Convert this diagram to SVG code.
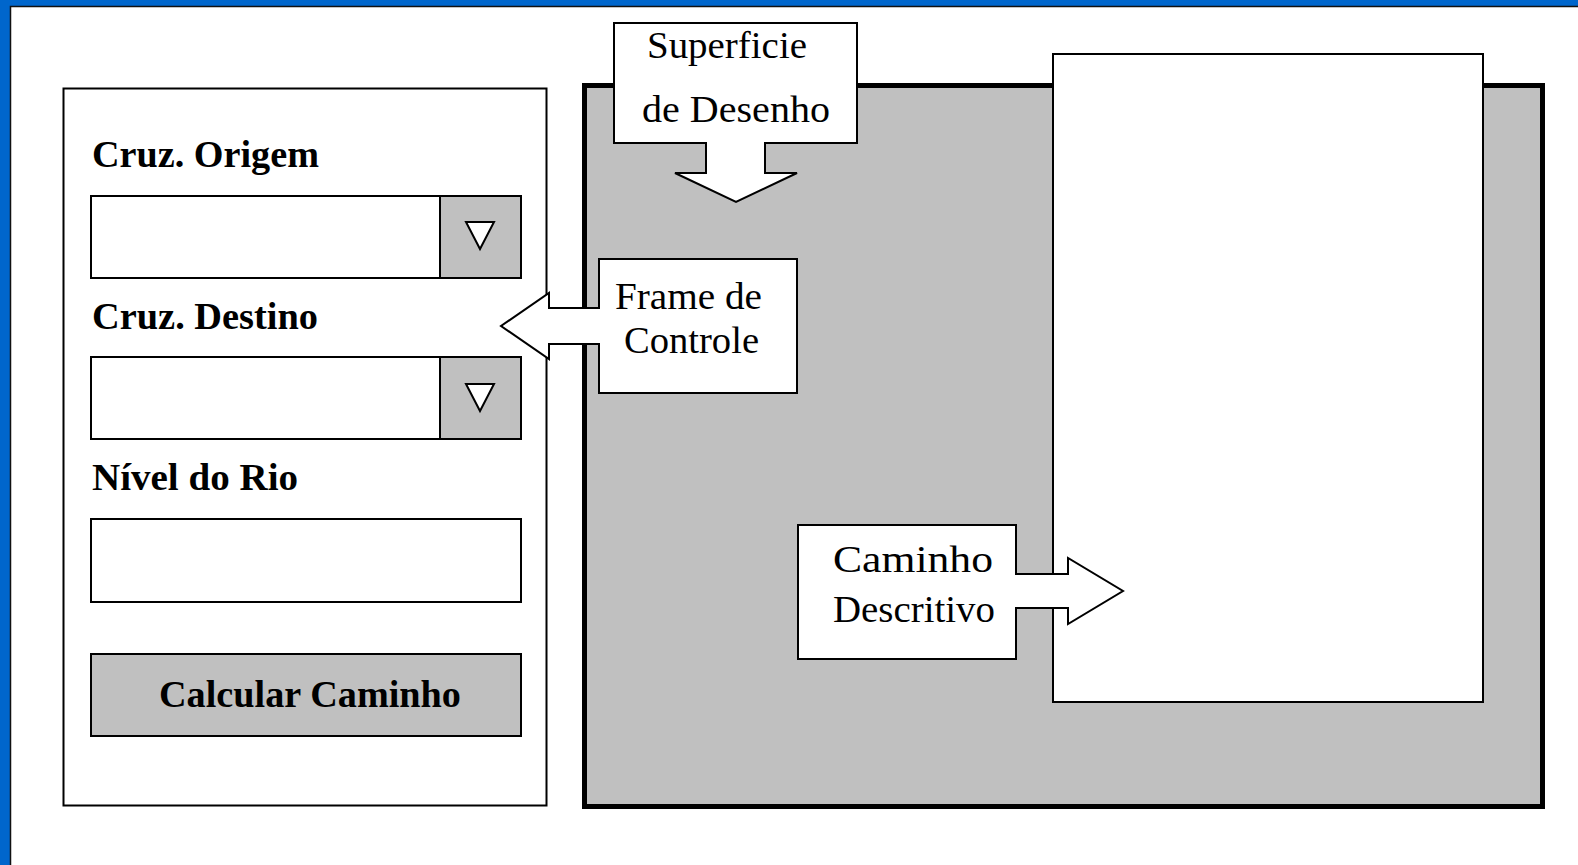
<svg xmlns="http://www.w3.org/2000/svg" width="1578" height="865" viewBox="0 0 1578 865">
<style>
.lbl{font-family:"Liberation Serif","Times New Roman",serif;font-weight:bold;font-size:38px;fill:#000}
.txt{font-family:"Liberation Serif","Times New Roman",serif;font-size:38px;fill:#000}
.box{fill:#fff;stroke:#000;stroke-width:2}
.gbox{fill:#C0C0C0;stroke:#000;stroke-width:2}
.call{fill:#fff;stroke:#000;stroke-width:2;stroke-linejoin:miter}
</style>
<rect x="0" y="0" width="1578" height="865" fill="#fff"/>
<rect x="0" y="0" width="1578" height="6" fill="#0066CC"/>
<rect x="0" y="0" width="10" height="865" fill="#0066CC"/>
<path d="M10.5 865 V6.5 H1578" fill="none" stroke="#111" stroke-width="1.5"/>

<g id="control-frame">
<rect x="63.5" y="88.5" width="483" height="717" class="box"/>
<text x="92" y="167" class="lbl" textLength="227" lengthAdjust="spacingAndGlyphs">Cruz. Origem</text>
<g id="combo-origem">
<rect x="91" y="196" width="350" height="82" class="box"/>
<rect x="440" y="196" width="81" height="82" class="gbox"/>
<polygon points="466,222 494,222 480,249" fill="#fff" stroke="#000" stroke-width="2"/>
</g>
<text x="92" y="329" class="lbl" textLength="226" lengthAdjust="spacingAndGlyphs">Cruz. Destino</text>
<g id="combo-destino">
<rect x="91" y="357" width="350" height="82" class="box"/>
<rect x="440" y="357" width="81" height="82" class="gbox"/>
<polygon points="466,384 494,384 480,411" fill="#fff" stroke="#000" stroke-width="2"/>
</g>
<text x="92" y="490" class="lbl" textLength="206" lengthAdjust="spacingAndGlyphs">Nível do Rio</text>
<rect id="nivel-input" x="91" y="519" width="430" height="83" class="box"/>
<g id="btn-calcular">
<rect x="91" y="654" width="430" height="82" class="gbox"/>
<text x="159" y="707" class="lbl" textLength="302" lengthAdjust="spacingAndGlyphs">Calcular Caminho</text>
</g>
</g>

<g id="drawing-surface">
<rect x="584.5" y="85.5" width="958" height="721" fill="#C0C0C0" stroke="#000" stroke-width="5"/>
</g>

<g id="description-panel">
<rect x="1053" y="54" width="430" height="648" class="box"/>
</g>

<g id="connectors">
<g id="callout-superficie">
<path d="M614 23 H857 V143 H765 V173 H797 L736 202 L675 173 H706 V143 H614 Z" class="call"/>
<text x="647" y="58" class="txt" textLength="160" lengthAdjust="spacingAndGlyphs">Superficie</text>
<text x="642" y="122" class="txt" textLength="188" lengthAdjust="spacingAndGlyphs">de Desenho</text>
</g>
<g id="callout-frame">
<path d="M599 259 H797 V393 H599 V344 H549 V359 L501 326 L549 293 V308 H599 Z" class="call"/>
<text x="615" y="309" class="txt" textLength="147" lengthAdjust="spacingAndGlyphs">Frame de</text>
<text x="624" y="353" class="txt" textLength="135" lengthAdjust="spacingAndGlyphs">Controle</text>
</g>
<g id="callout-caminho">
<path d="M798 525 H1016 V574 H1068 V558 L1123 591 L1068 624 V608 H1016 V659 H798 Z" class="call"/>
<text x="833" y="572" class="txt" font-size="42" textLength="160" lengthAdjust="spacingAndGlyphs">Caminho</text>
<text x="833" y="622" class="txt" font-size="39" textLength="162" lengthAdjust="spacingAndGlyphs">Descritivo</text>
</g>
</g>
</svg>
